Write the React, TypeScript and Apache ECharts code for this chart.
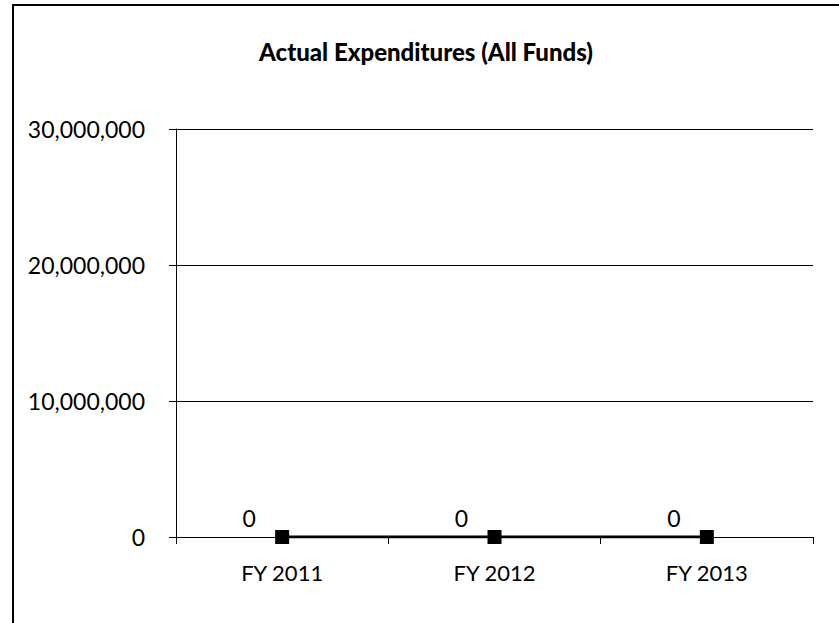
import React, { useEffect, useRef } from "react";
import * as echarts from "echarts";

const title = "Actual Expenditures (All Funds)";
const categories = ["FY 2011", "FY 2012", "FY 2013"];
const expenditures = [0, 0, 0];
const yMin = 0;
const yMax = 30000000;
const yInterval = 10000000;

const FONT = "Lato, 'Open Sans', 'Liberation Sans', sans-serif";

export default function App() {
  const ref = useRef<HTMLDivElement>(null);
  useEffect(() => {
    if (!ref.current) return;
    const chart = echarts.init(ref.current, undefined, { renderer: "svg" });
    chart.setOption({
      animation: false,
      backgroundColor: "#ffffff",
      title: {
        text: title,
        left: 421,
        top: 34,
        textAlign: "center",
        textStyle: { fontFamily: FONT, fontSize: 24, fontWeight: 900, color: "#000" },
      },
      graphic: [
        {
          type: "rect",
          shape: { x: 13, y: 5, width: 900, height: 700 },
          style: { fill: "none", stroke: "#000", lineWidth: 2 },
          silent: true,
        },
      ],
      grid: { left: 176, right: 26, top: 129, bottom: 86, containLabel: false },
      xAxis: {
        type: "category",
        data: categories,
        boundaryGap: true,
        axisLine: { show: true, lineStyle: { color: "#000", width: 1 } },
        axisTick: { show: true, length: 7, alignWithLabel: false, lineStyle: { color: "#000" } },
        axisLabel: { fontFamily: FONT, fontSize: 22, color: "#000", margin: 24 },
        splitLine: { show: false },
      },
      yAxis: {
        type: "value",
        min: yMin,
        max: yMax,
        interval: yInterval,
        axisLine: { show: true, lineStyle: { color: "#000", width: 1 } },
        axisTick: { show: true, length: 7, lineStyle: { color: "#000" } },
        axisLabel: {
          fontFamily: FONT,
          fontSize: 23,
          color: "#000",
          margin: 31,
          formatter: (v: number) => v.toLocaleString("en-US"),
        },
        splitLine: { show: true, lineStyle: { color: "#000", width: 1 } },
      },
      series: [
        {
          type: "line",
          data: expenditures,
          symbol: "rect",
          symbolSize: 14,
          itemStyle: { color: "#000" },
          lineStyle: { color: "#000", width: 3 },
          label: {
            show: true,
            position: "top",
            distance: 1,
            offset: [-33, 0],
            fontFamily: FONT,
            fontSize: 23,
            color: "#000",
          },
        },
      ],
    });
    return () => chart.dispose();
  }, []);
  return <div ref={ref} style={{ width: 839, height: 623, position: "absolute", left: 0, top: 0 }} />;
}
